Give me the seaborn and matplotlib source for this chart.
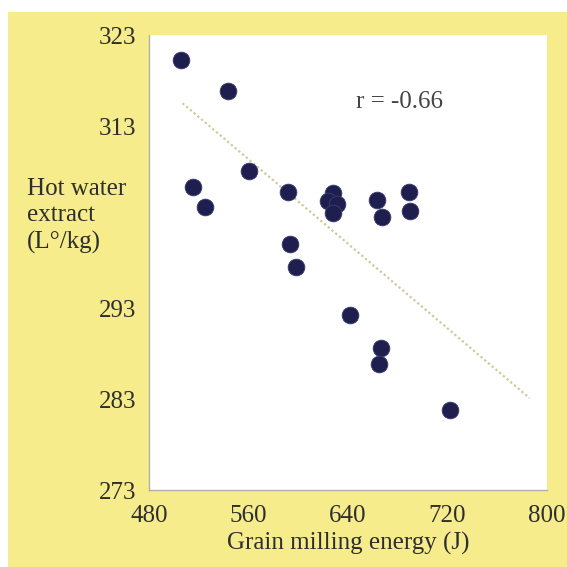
import matplotlib
matplotlib.use("Agg")
import matplotlib.pyplot as plt
import seaborn as sns
import pandas as pd
from matplotlib.patches import Rectangle

# Data
milling_energy = [505.7, 543.5, 560.0, 515.4, 525.0, 591.8, 593.4, 598.2,
                  628.2, 624.2, 630.9, 627.6, 663.0, 667.0, 689.3, 690.1,
                  641.6, 666.5, 665.2, 722.0]
hot_water_extract = [320.3, 316.9, 308.1, 306.3, 304.1, 305.7, 300.0, 297.5,
                     305.6, 304.8, 304.4, 303.4, 304.9, 303.0, 305.7, 303.7,
                     292.2, 288.6, 286.8, 281.8]
fit_x = [507.0, 786.0]
fit_y = [315.5, 283.1]
x_ticks = [480, 560, 640, 720, 800]
y_ticks = [273, 283, 293, 313, 323]
r_label = "r = -0.66"

df = pd.DataFrame({"energy": milling_energy, "hwe": hot_water_extract})
fit = pd.DataFrame({"x": fit_x, "y": fit_y})

sns.set_style("white")
plt.rcParams["font.family"] = ["Liberation Serif", "DejaVu Serif"]

fig = plt.figure(figsize=(5.67, 5.67), dpi=100, facecolor="white")
fig.patches.append(Rectangle((8 / 567, 0), 1, 1 - 12 / 567, transform=fig.transFigure,
                             facecolor="#f6ec8c", edgecolor="none", zorder=-10))
ax = fig.add_axes([149 / 567, 1 - 490 / 567, 398 / 567, 455 / 567])
ax.set_facecolor("white")

sns.lineplot(data=fit, x="x", y="y", ax=ax, color="#cfc89a", linewidth=1.6,
             linestyle=(0, (1, 1.2)), zorder=1)
sns.scatterplot(data=df, x="energy", y="hwe", ax=ax, s=145, color="#1e1f4e",
                edgecolor="#3c3d6e", linewidth=0.6, zorder=3)

ax.set_xlim(480, 800)
ax.set_ylim(273, 323)
ax.set_xticks(x_ticks)
ax.set_yticks(y_ticks)
ax.tick_params(axis="both", direction="in", length=9, width=0.8, color="#c4c4c4",
               labelsize=18, labelcolor="#2e2e2e")
ax.tick_params(axis="y", pad=9)
ax.tick_params(axis="x", pad=10.5)

for side in ["top", "right"]:
    ax.spines[side].set_visible(False)
for side in ["left", "bottom"]:
    ax.spines[side].set_color("#b0b0b0")
    ax.spines[side].set_linewidth(1.0)

ax.set_xlabel("Grain milling energy (J)", fontsize=18, color="#2e2e2e", labelpad=3.5)
ax.set_ylabel("")
fig.text(27 / 567, 1 - 216 / 567, "Hot water\nextract\n(L°/kg)", fontsize=18,
         color="#2e2e2e", ha="left", va="center", linespacing=1.25)
ax.text(0.52, 0.852, r_label, transform=ax.transAxes, fontsize=18,
        color="#444444", ha="left", va="center")

fig.savefig("out.png", dpi=100, facecolor=fig.get_facecolor())
